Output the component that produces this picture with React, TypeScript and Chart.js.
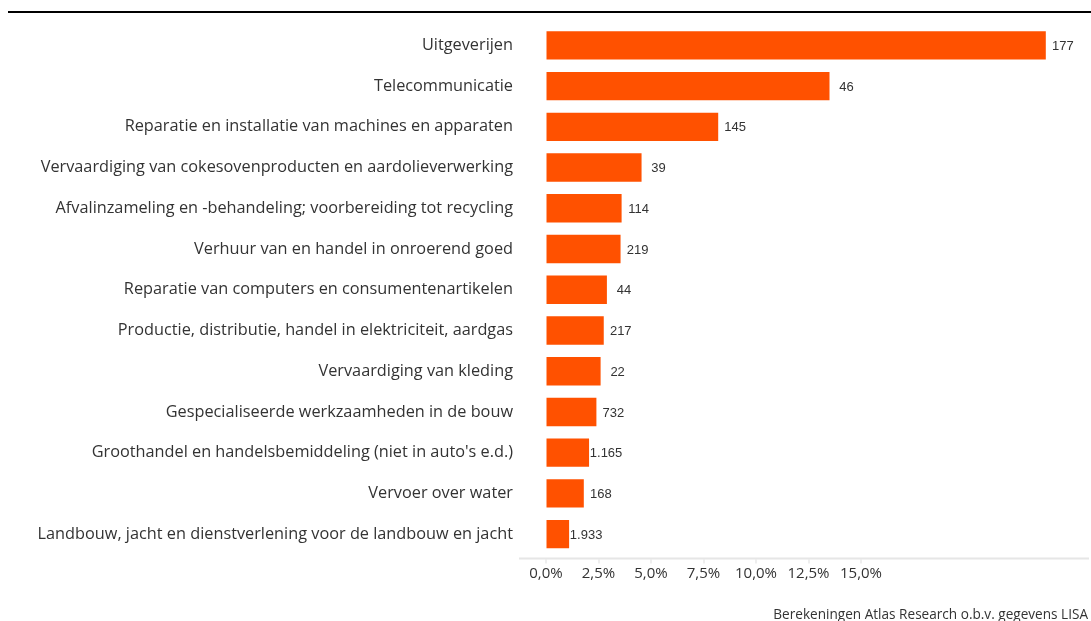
import React, { useEffect, useRef } from "react";
import { Chart, registerables } from "chart.js";

Chart.register(...registerables);

const categories: string[] = [
  "Uitgeverijen",
  "Telecommunicatie",
  "Reparatie en installatie van machines en apparaten",
  "Vervaardiging van cokesovenproducten en aardolieverwerking",
  "Afvalinzameling en -behandeling; voorbereiding tot recycling",
  "Verhuur van en handel in onroerend goed",
  "Reparatie van computers en consumentenartikelen",
  "Productie, distributie, handel in elektriciteit, aardgas",
  "Vervaardiging van kleding",
  "Gespecialiseerde werkzaamheden in de bouw",
  "Groothandel en handelsbemiddeling (niet in auto's e.d.)",
  "Vervoer over water",
  "Landbouw, jacht en dienstverlening voor de landbouw en jacht",
];

const percentages: number[] = [23.8, 13.5, 8.2, 4.55, 3.6, 3.55, 2.9, 2.75, 2.6, 2.4, 2.05, 1.8, 1.1];

const countLabels: string[] = ["177", "46", "145", "39", "114", "219", "44", "217", "22", "732", "1.165", "168", "1.933"];

const tickValues: number[] = [0, 2.5, 5, 7.5, 10, 12.5, 15];

const sourceText = "Berekeningen Atlas Research o.b.v. gegevens LISA";

const BAR_COLOR = "#ff5100";
const TEXT_COLOR = "#333333";

export default function App() {
  const canvasRef = useRef<HTMLCanvasElement | null>(null);

  useEffect(() => {
    const canvas = canvasRef.current;
    if (!canvas) return;

    const decorPlugin = {
      id: "decor",
      afterDatasetsDraw(chart: any) {
        const ctx = chart.ctx;
        const meta = chart.getDatasetMeta(0);
        ctx.save();
        ctx.font = "13px 'Liberation Sans', Arial, sans-serif";
        ctx.fillStyle = TEXT_COLOR;
        ctx.textAlign = "center";
        ctx.textBaseline = "middle";
        meta.data.forEach((bar: any, i: number) => {
          ctx.fillText(countLabels[i], bar.x + 17, bar.y + 1);
        });
        ctx.restore();
      },
      afterDraw(chart: any) {
        const ctx = chart.ctx;
        const area = chart.chartArea;
        const xs = chart.scales.x;
        ctx.save();
        // axis line slightly below the category bands
        const axisY = area.bottom + 3;
        ctx.fillStyle = "#e6e6e6";
        ctx.fillRect(area.left, axisY, area.right - area.left, 2);
        ctx.fillStyle = "#dddddd";
        tickValues.forEach((v) => {
          const px = Math.round(xs.getPixelForValue(v));
          ctx.fillRect(px - 0.5, axisY + 2, 1, 4);
        });
        // top rule
        ctx.fillStyle = "#000000";
        ctx.fillRect(8, 11, 1083, 2);
        // source
        ctx.font = "13.6px 'Open Sans', sans-serif";
        ctx.fillStyle = TEXT_COLOR;
        ctx.textAlign = "right";
        ctx.textBaseline = "alphabetic";
        ctx.fillText(sourceText, 1088, 619);
        ctx.restore();
      },
    };

    const chart = new Chart(canvas, {
      type: "bar",
      data: {
        labels: categories,
        datasets: [
          {
            data: percentages,
            backgroundColor: BAR_COLOR,
            borderWidth: 0,
            barPercentage: 0.82,
            categoryPercentage: 0.85,
          },
        ],
      },
      options: {
        indexAxis: "y",
        animation: false,
        responsive: false,
        layout: { padding: { top: 25, right: 2, bottom: 36.5, left: 0 } },
        plugins: {
          legend: { display: false },
          tooltip: { enabled: false },
        },
        scales: {
          x: {
            min: -1.286,
            max: 25.857,
            afterBuildTicks(scale: any) {
              scale.ticks = tickValues.map((v) => ({ value: v }));
            },
            afterFit(scale: any) {
              scale.height = 30;
            },
            grid: {
              display: true,
              drawOnChartArea: false,
              drawTicks: true,
              tickLength: 5,
              color: "rgba(0,0,0,0)",
            },
            border: { display: false },
            ticks: {
              autoSkip: false,
              maxRotation: 0,
              padding: 5.5,
              color: TEXT_COLOR,
              font: { family: "'Open Sans', sans-serif", size: 15 },
              callback: (v: any) => Number(v).toFixed(1).replace(".", ",") + "%",
            },
          },
          y: {
            afterFit(scale: any) {
              scale.width = 519;
            },
            grid: { display: false, drawTicks: false },
            border: { display: false },
            ticks: {
              padding: 6,
              color: TEXT_COLOR,
              autoSkip: false,
              font: { family: "'Open Sans', sans-serif", size: 16.3 },
            },
          },
        },
      },
      plugins: [decorPlugin],
    });

    return () => chart.destroy();
  }, []);

  return (
    <div style={{ position: "absolute", left: 0, top: 0, width: 1091, height: 621, background: "#ffffff" }}>
      <canvas ref={canvasRef} width={1091} height={621} />
    </div>
  );
}
